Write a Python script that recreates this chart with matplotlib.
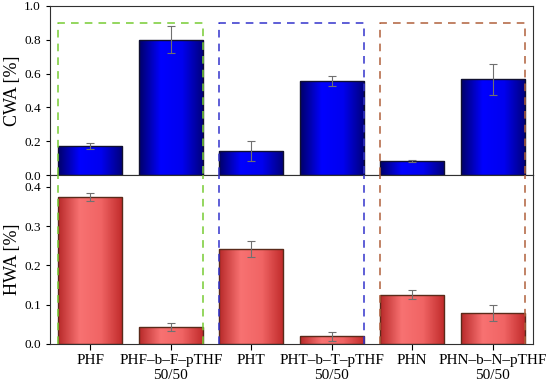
import numpy as np
import matplotlib.pyplot as plt
from matplotlib.colors import LinearSegmentedColormap

# CWA / HWA of the homopolymers and their block copolymers
samples = ['PHF', 'PHF\u2013b\u2013F\u2013pTHF\n50/50', 'PHT', 'PHT\u2013b\u2013T\u2013pTHF\n50/50',
           'PHN', 'PHN\u2013b\u2013N\u2013pTHF\n50/50']
cwa = [0.173, 0.80, 0.144, 0.558, 0.083, 0.566]
cwa_err = [0.018, 0.08, 0.06, 0.03, 0.008, 0.09]
hwa = [0.374, 0.043, 0.242, 0.019, 0.125, 0.079]
hwa_err = [0.011, 0.011, 0.021, 0.011, 0.011, 0.021]

# groups of (homopolymer, copolymer) framed by dashed boxes
groups = [(0, 1), (2, 3), (4, 5)]
group_colors = ['#77cc33', '#3333cc', '#b0603c']

plt.rcParams['font.family'] = ['Liberation Serif', 'DejaVu Serif']

fig = plt.figure(figsize=(5.5, 3.89), dpi=100)
ax1 = fig.add_axes([0.091, 0.550, 0.878, 0.435])
ax2 = fig.add_axes([0.091, 0.116, 0.878, 0.434])

x = np.arange(len(samples))
w = 0.8
hwa_top = 0.43

blue_cmap = LinearSegmentedColormap.from_list('b', ['#00006a', '#0000ff', '#0000f0', '#00007a'])
red_cmap = LinearSegmentedColormap.from_list('r', ['#b82a2a', '#f87272', '#f06464', '#c02a2a'])
grad = np.linspace(0, 1, 100).reshape(1, -1)


def gradient_bars(ax, vals, errs, cmap, edge):
    bars = ax.bar(x, vals, w, color='none', edgecolor=edge, linewidth=1.0, zorder=3)
    for b in bars:
        im = ax.imshow(grad, cmap=cmap, aspect='auto', zorder=2,
                       extent=[b.get_x(), b.get_x() + b.get_width(), 0, b.get_height()])
        im.set_clip_path(b)
    ax.errorbar(x, vals, yerr=errs, fmt='none', ecolor='#707070', elinewidth=0.8,
                capsize=3, capthick=0.8, zorder=4)


gradient_bars(ax1, cwa, cwa_err, blue_cmap, '#101030')
gradient_bars(ax2, hwa, hwa_err, red_cmap, '#5a2a1a')

ax1.set_xlim(-0.5, 5.5)
ax2.set_xlim(-0.5, 5.5)
ax1.set_ylim(0, 1.0)
ax2.set_ylim(0, hwa_top)
ax1.set_yticks([0.0, 0.2, 0.4, 0.6, 0.8, 1.0])
ax2.set_yticks([0.0, 0.1, 0.2, 0.3, 0.4])
ax1.set_xticks([])
ax2.set_xticks(x)
ax2.set_xticklabels(samples, fontsize=11)
for ax in (ax1, ax2):
    ax.tick_params(axis='y', labelsize=9.5, direction='out', length=3)
    ax.tick_params(axis='x', direction='out', length=4)
    for s in ax.spines.values():
        s.set_color('#303030')
ax1.set_ylabel('CWA [%]', fontsize=13)
ax2.set_ylabel('HWA [%]', fontsize=13)
ax1.yaxis.set_label_coords(-0.06, 0.5)
ax2.yaxis.set_label_coords(-0.06, 0.5)

# dashed frames around each pair, running through both panels
for (i0, i1), c in zip(groups, group_colors):
    x0, x1 = x[i0] - 0.4, x[i1] + 0.4
    ax1.plot([x0, x0, x1, x1], [0, 0.9, 0.9, 0], ls='--', color=c, lw=1.1,
             dashes=(5, 4), zorder=5, clip_on=False)
    ax2.plot([x0, x0], [0, hwa_top], ls='--', color=c, lw=1.1, dashes=(5, 4), zorder=5)
    ax2.plot([x1, x1], [0, hwa_top], ls='--', color=c, lw=1.1, dashes=(5, 4), zorder=5)

fig.savefig('out.png', dpi=100)
